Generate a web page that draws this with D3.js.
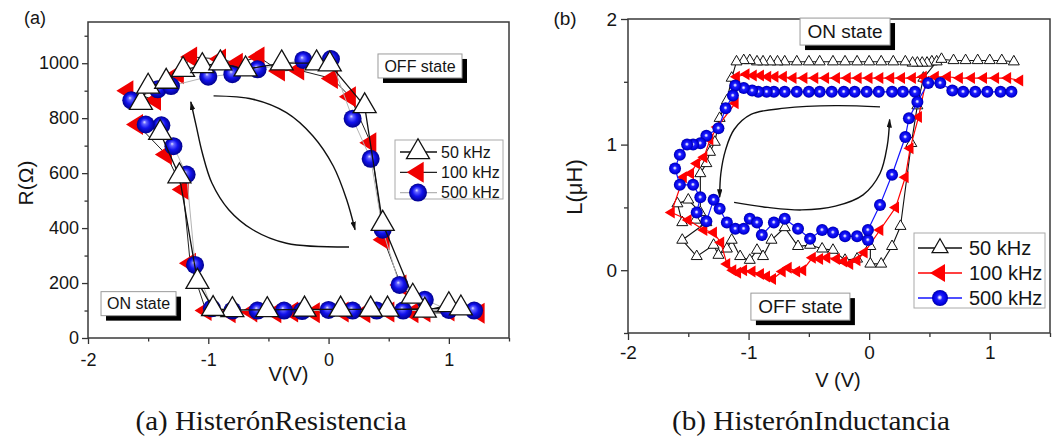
<!DOCTYPE html>
<html>
<head>
<meta charset="utf-8">
<script src="https://cdn.jsdelivr.net/npm/d3@7"></script>
<style>
  body { margin: 0; background: #fff; }
  svg text { font-family: "Liberation Sans", Arial, sans-serif; fill: #151515; }
</style>
</head>
<body>
<svg id="fig" width="1063" height="441"></svg>
<script>
// ---------- data ----------
const freqLabels = ["50 kHz", "100 kHz", "500 kHz"];

// (a) resistance loop, [V, R (ohm)]
const resA50 = [
  [-1.56, 856], [-1.50, 915], [-1.35, 933], [-1.21, 976], [-1.05, 990], [-0.90, 1000],
  [-0.69, 978], [-0.39, 1000], [-0.10, 1000], [0.01, 996], [0.30, 844], [0.45, 416],
  [0.70, 151], [0.80, 100], [1.00, 120], [1.10, 108], [0.49, 104], [0.35, 104],
  [0.10, 104], [-0.20, 104], [-0.51, 102], [-0.80, 102], [-0.96, 106], [-1.09, 205],
  [-1.24, 589], [-1.40, 747]
];
const resA100 = [
  [-1.67, 900], [-1.44, 865], [-1.25, 962], [-1.14, 1023], [-0.90, 1015], [-0.76, 1000],
  [-0.58, 1023], [-0.41, 972], [-0.25, 975], [0.03, 944], [0.18, 878], [0.35, 711],
  [0.46, 358], [0.60, 193], [0.80, 95], [1.00, 98], [1.25, 90], [0.70, 92], [0.50, 95],
  [0.30, 92], [0.12, 95], [-0.12, 92], [-0.30, 95], [-0.44, 92], [-0.64, 95], [-0.82, 92],
  [-1.02, 100], [-1.15, 272], [-1.21, 540], [-1.35, 668], [-1.59, 777]
];
const resA500 = [
  [-1.64, 865], [-1.42, 905], [-1.31, 917], [-1.00, 951], [-0.80, 960], [-0.59, 978],
  [-0.21, 1012], [0.02, 1015], [0.20, 798], [0.35, 652], [0.45, 394], [0.59, 193],
  [0.80, 139], [1.00, 102], [1.21, 100], [0.62, 100], [0.40, 100], [0.20, 100], [0.00, 102],
  [-0.22, 98], [-0.37, 100], [-0.59, 100], [-0.80, 100], [-0.97, 108], [-1.11, 266],
  [-1.18, 595], [-1.29, 698], [-1.39, 774], [-1.52, 777]
];

// (b) inductance loop, [V, L (uH)]
const indB50 = [
  [0.52, 1.66], [0.48, 1.65], [0.44, 1.65], [0.40, 1.65], [0.36, 1.65], [0.30, 1.66],
  [0.20, 1.66], [0.10, 1.66], [0.00, 1.66], [-0.10, 1.66], [-0.20, 1.66], [-0.30, 1.66],
  [-0.41, 1.66], [-0.50, 1.66], [-0.60, 1.66], [-0.70, 1.66], [-0.76, 1.66], [-0.82, 1.66],
  [-0.88, 1.66], [-0.93, 1.66], [-0.99, 1.67], [-1.04, 1.67], [-1.10, 1.66], [-1.14, 1.53],
  [-1.18, 1.35], [-1.24, 1.21], [-1.28, 1.02], [-1.32, 0.94], [-1.35, 0.85], [-1.40, 0.77],
  [-1.40, 0.46], [-1.50, 0.56], [-1.59, 0.53], [-1.55, 0.38], [-1.44, 0.40], [-1.35, 0.38],
  [-1.55, 0.24], [-1.43, 0.11], [-1.29, 0.20], [-1.25, 0.12], [-1.18, 0.17], [-1.14, 0.24],
  [-1.07, 0.11], [-0.99, 0.08], [-0.93, 0.16], [-0.88, 0.11], [-0.81, 0.24], [-0.70, 0.34],
  [-0.59, 0.19], [-0.49, 0.20], [-0.39, 0.17], [-0.30, 0.16], [-0.20, 0.08], [-0.10, 0.09],
  [0.01, 0.19], [0.01, 0.05], [0.10, 0.05], [0.19, 0.19], [0.26, 0.35], [0.35, 1.01],
  [0.40, 1.31], [0.45, 1.53], [0.56, 1.66], [0.60, 1.68], [0.70, 1.67], [0.80, 1.67],
  [0.90, 1.67], [1.00, 1.67], [1.10, 1.67], [1.20, 1.66]
];
const indB100 = [
  [0.45, 1.54], [0.36, 1.53], [0.27, 1.53], [0.18, 1.53], [0.09, 1.53], [0.00, 1.53],
  [-0.09, 1.53], [-0.18, 1.53], [-0.27, 1.53], [-0.36, 1.53], [-0.45, 1.53], [-0.54, 1.53],
  [-0.63, 1.53], [-0.71, 1.54], [-0.78, 1.54], [-0.84, 1.54], [-0.90, 1.55], [-0.96, 1.55],
  [-1.02, 1.56], [-1.10, 1.54], [-1.11, 1.33], [-1.26, 1.14], [-1.32, 1.04], [-1.37, 0.90],
  [-1.43, 0.85], [-1.48, 0.77], [-1.54, 0.74], [-1.64, 0.46], [-1.50, 0.40], [-1.37, 0.32],
  [-1.29, 0.30], [-1.23, 0.22], [-1.18, 0.05], [-1.13, 0.00], [-1.09, -0.02], [-1.04, 0.00],
  [-0.97, -0.01], [-0.90, -0.03], [-0.85, -0.05], [-0.80, -0.07], [-0.72, -0.01], [-0.67, 0.02],
  [-0.60, -0.01], [-0.55, 0.00], [-0.47, 0.10], [-0.41, 0.09], [-0.35, 0.10], [-0.27, 0.09],
  [-0.21, 0.07], [-0.16, 0.05], [-0.10, 0.08], [-0.04, 0.14], [0.09, 0.32], [0.22, 0.50],
  [0.30, 0.74], [0.34, 0.97], [0.41, 1.22], [0.47, 1.50], [0.55, 1.54], [0.65, 1.54],
  [0.75, 1.53], [0.85, 1.53], [0.95, 1.53], [1.05, 1.53], [1.15, 1.53], [1.25, 1.51]
];
const indB500 = [
  [0.38, 1.42], [0.28, 1.42], [0.19, 1.42], [0.08, 1.42], [-0.02, 1.42], [-0.12, 1.42],
  [-0.21, 1.42], [-0.31, 1.42], [-0.41, 1.42], [-0.50, 1.42], [-0.60, 1.42], [-0.70, 1.42],
  [-0.79, 1.42], [-0.85, 1.42], [-0.92, 1.42], [-0.97, 1.43], [-1.04, 1.45], [-1.11, 1.47],
  [-1.13, 1.39], [-1.19, 1.29], [-1.25, 1.13], [-1.35, 1.07], [-1.40, 1.01], [-1.46, 1.00],
  [-1.51, 1.00], [-1.57, 0.92], [-1.61, 0.81], [-1.57, 0.68], [-1.46, 0.68], [-1.40, 0.58],
  [-1.43, 0.46], [-1.35, 0.39], [-1.29, 0.56], [-1.24, 0.49], [-1.18, 0.38], [-1.11, 0.33],
  [-1.04, 0.33], [-0.99, 0.41], [-0.93, 0.38], [-0.89, 0.28], [-0.79, 0.38], [-0.70, 0.41],
  [-0.59, 0.33], [-0.49, 0.25], [-0.39, 0.32], [-0.30, 0.30], [-0.20, 0.27], [-0.10, 0.27],
  [-0.01, 0.24], [-0.01, 0.32], [0.09, 0.52], [0.19, 0.76], [0.30, 1.06], [0.33, 1.21],
  [0.40, 1.34], [0.49, 1.49], [0.59, 1.49], [0.69, 1.43], [0.78, 1.42], [0.88, 1.42],
  [0.98, 1.42], [1.09, 1.42], [1.18, 1.42]
];

// axis ticks
const voltTicks = [-2, -1, 0, 1];
const voltMinor = [-1.5, -0.5, 0.5, 1.5];
const resTicks = [0, 200, 400, 600, 800, 1000];
const resMinor = [100, 300, 500, 700, 900, 1100];
const indTicks = [0, 1, 2];
const indMinor = [-0.5, 0.5, 1.5];

// sweep direction arrows, [V, value]
const arrowA1 = [[0.17, 331], [-0.35, 345], [-0.63, 394], [-0.83, 467], [-0.97, 564], [-1.05, 674], [-1.10, 771], [-1.145, 859]];
const arrowA2 = [[-0.956, 881], [-0.63, 869], [-0.35, 820], [-0.13, 735], [0.04, 625], [0.15, 504], [0.22, 394]];
const arrowB1 = [[0.09, 1.30], [-0.28, 1.31], [-0.70, 1.29], [-0.98, 1.24], [-1.12, 1.12], [-1.19, 0.96], [-1.23, 0.77], [-1.24, 0.58]];
const arrowB2 = [[-1.12, 0.54], [-0.84, 0.50], [-0.56, 0.48], [-0.28, 0.51], [-0.05, 0.60], [0.09, 0.77], [0.15, 0.99], [0.17, 1.20]];

// state boxes, centred at [V, value]
const statesA = [{ text: "OFF state", at: [0.76, 990] }, { text: "ON state", at: [-1.58, 125] }];
const statesB = [{ text: "ON state", at: [-0.20, 1.90] }, { text: "OFF state", at: [-0.57, -0.29] }];

const captions = ["(a) HisterónResistencia", "(b) HisterónInductancia"];

// ---------- drawing ----------
const svg = d3.select("#fig");
svg.append("rect").attr("width", 1063).attr("height", 441).attr("fill", "#fff");
const defs = svg.append("defs");

function radial(id, fx, fy, stops) {
  const g = defs.append("radialGradient").attr("id", id)
    .attr("cx", "50%").attr("cy", "50%").attr("r", "50%").attr("fx", fx).attr("fy", fy);
  stops.forEach(([o, c]) => g.append("stop").attr("offset", o).attr("stop-color", c));
}
radial("ballA", "42%", "36%", [[0, "#e6e6ff"], [0.2, "#6464ff"], [0.55, "#1212ee"], [1, "#00008c"]]);
radial("ballB", "48%", "46%", [[0, "#ffffff"], [0.16, "#b4b4ff"], [0.34, "#1e1eff"], [0.8, "#0000e0"], [1, "#0000a0"]]);

defs.append("marker").attr("id", "head")
  .attr("viewBox", "0 0 10 6").attr("refX", 9).attr("refY", 3)
  .attr("markerWidth", 9).attr("markerHeight", 5.5)
  .attr("markerUnits", "userSpaceOnUse").attr("orient", "auto")
  .append("path").attr("d", "M0,0L10,3L0,6Z").attr("fill", "#111");

function triUp(s) {
  const h = s * Math.sqrt(3) / 2;
  return `M0,${-2 * h / 3}L${s / 2},${h / 3}L${-s / 2},${h / 3}Z`;
}
function triLeft(w, h) {
  return `M${-2 * w / 3},0L${w / 3},${-h / 2}L${w / 3},${h / 2}Z`;
}
function shapePath(m) {
  return m.kind === "up" ? triUp(m.s) : triLeft(m.w, m.h);
}

// draws one marker at a pixel position (legend use)
function legendMarker(g, m, cx, cy) {
  if (m.kind === "ball") {
    g.append("circle").attr("cx", cx).attr("cy", cy).attr("r", m.r).attr("fill", m.fill);
  } else {
    g.append("path").attr("d", shapePath(m)).attr("transform", `translate(${cx},${cy})`)
      .attr("fill", m.fill).attr("stroke", m.stroke || "none").attr("stroke-width", m.sw || 1);
  }
}

function drawPanel(p) {
  const x = d3.scaleLinear().domain([-2, 1.5]).range([p.left, p.right]);
  const y = d3.scaleLinear().domain(p.yDomain).range([p.bottom, p.top]);
  const g = svg.append("g");

  // axes: major and minor ticks, outward
  const styleAxis = sel => sel.attr("color", "#333").attr("font-size", p.font)
    .attr("font-family", "Liberation Sans, Arial, sans-serif")
    .call(s => s.select(".domain").remove())
    .call(s => s.selectAll("line").attr("stroke-width", 1.3));

  g.append("g").attr("transform", `translate(0,${p.bottom})`)
    .call(d3.axisBottom(x).tickValues(voltTicks).tickSize(p.tick).tickPadding(p.xPad).tickFormat(d => String(d)))
    .call(styleAxis);
  g.append("g").attr("transform", `translate(0,${p.bottom})`)
    .call(d3.axisBottom(x).tickValues(voltMinor).tickSize(p.minor).tickFormat(""))
    .call(styleAxis);
  g.append("g").attr("transform", `translate(${p.left},0)`)
    .call(d3.axisLeft(y).tickValues(p.yTicks).tickSize(p.tick).tickPadding(p.yPad).tickFormat(d => String(d)))
    .call(styleAxis);
  g.append("g").attr("transform", `translate(${p.left},0)`)
    .call(d3.axisLeft(y).tickValues(p.yMinor).tickSize(p.minor).tickFormat(""))
    .call(styleAxis);

  g.append("rect")
    .attr("x", p.left).attr("y", p.top)
    .attr("width", p.right - p.left).attr("height", p.bottom - p.top)
    .attr("fill", "none").attr("stroke", "#3a3a3a").attr("stroke-width", 1.5);

  // sweep arrows
  const curve = d3.line().x(d => x(d[0])).y(d => y(d[1])).curve(d3.curveCatmullRom.alpha(0.5));
  p.arrows.forEach(a => {
    g.append("path").attr("d", curve(a)).attr("fill", "none")
      .attr("stroke", "#111").attr("stroke-width", 1.4).attr("marker-end", "url(#head)");
  });

  // series: line then markers
  const line = d3.line().x(d => x(d[0])).y(d => y(d[1]));
  p.drawOrder.forEach(i => {
    const s = p.series[i];
    g.append("path").attr("d", line(s.data)).attr("fill", "none")
      .attr("stroke", s.line).attr("stroke-width", s.lw).attr("stroke-linejoin", "round");
    const m = s.mark;
    if (m.kind === "ball") {
      g.append("g").selectAll("circle").data(s.data).join("circle")
        .attr("cx", d => x(d[0])).attr("cy", d => y(d[1])).attr("r", m.r).attr("fill", m.fill);
    } else {
      g.append("g").selectAll("path").data(s.data).join("path")
        .attr("d", shapePath(m))
        .attr("transform", d => `translate(${x(d[0])},${y(d[1])})`)
        .attr("fill", m.fill).attr("stroke", m.stroke || "none").attr("stroke-width", m.sw || 1);
    }
  });

  // state boxes with drop shadow
  p.states.forEach(st => {
    const b = g.append("g").attr("transform", `translate(${x(st.at[0])},${y(st.at[1])})`);
    const w = p.box.w[st.text], h = p.box.h;
    b.append("rect").attr("x", -w / 2 + 5).attr("y", -h / 2 + 5).attr("width", w).attr("height", h).attr("fill", "#000");
    b.append("rect").attr("x", -w / 2).attr("y", -h / 2).attr("width", w).attr("height", h)
      .attr("fill", "#fff").attr("stroke", "#9a9a9a").attr("stroke-width", 1);
    b.append("text").attr("text-anchor", "middle").attr("dy", "0.36em")
      .attr("font-size", p.box.font).text(st.text);
  });

  // legend
  const L = p.legend;
  const lg = g.append("g");
  lg.append("rect").attr("x", L.x).attr("y", L.y).attr("width", L.w).attr("height", L.h)
    .attr("fill", "#fff").attr("stroke", "#aaa").attr("stroke-width", 1);
  p.series.forEach((s, i) => {
    const cy = L.y + L.row0 + i * L.step;
    lg.append("line").attr("x1", L.line[0]).attr("x2", L.line[1]).attr("y1", cy).attr("y2", cy)
      .attr("stroke", s.line).attr("stroke-width", L.lw);
    legendMarker(lg, s.legendMark || s.mark, L.mark, cy);
    lg.append("text").attr("x", L.text).attr("y", cy).attr("dy", "0.36em")
      .attr("font-size", L.font).text(freqLabels[i]);
  });

  // titles
  g.append("text").attr("x", (p.left + p.right) / 2 + p.xTitleShift).attr("y", p.xTitleY)
    .attr("text-anchor", "middle").attr("font-size", p.titleFont).text(p.xTitle);
  g.append("text").attr("transform", `translate(${p.yTitleX},${p.yTitleY}) rotate(-90)`)
    .attr("text-anchor", "middle").attr("font-size", p.yTitleFont).text(p.yTitle);
  g.append("text").attr("x", p.tag[0]).attr("y", p.tag[1])
    .attr("font-size", p.tag[2]).attr("text-anchor", "middle").text(p.tagText);
}

drawPanel({
  left: 88, right: 509, top: 22, bottom: 338, yDomain: [0, 1150],
  yTicks: resTicks, yMinor: resMinor, tick: 6, minor: 3.5, font: 18, xPad: 9, yPad: 3,
  series: [
    { data: resA50, line: "#111", lw: 1.3, mark: { kind: "up", s: 23, fill: "#fff", stroke: "#111", sw: 1.3 } },
    { data: resA100, line: "#222", lw: 1, mark: { kind: "left", w: 17, h: 21, fill: "#f00000" } },
    { data: resA500, line: "#b4b4b4", lw: 1, mark: { kind: "ball", r: 9, fill: "url(#ballA)" } }
  ],
  drawOrder: [1, 2, 0],
  arrows: [arrowA1, arrowA2],
  states: statesA,
  box: { w: { "OFF state": 84, "ON state": 75 }, h: 24, font: 16 },
  legend: { x: 395, y: 140, w: 108, h: 59, row0: 12, step: 20.3, line: [400, 437], lw: 1.3, mark: 418, text: 441, font: 16 },
  xTitle: "V(V)", xTitleY: 381, xTitleShift: -10, titleFont: 20,
  yTitle: "R(Ω)", yTitleX: 33, yTitleY: 183, yTitleFont: 21,
  tagText: "(a)", tag: [35, 24, 18]
});

drawPanel({
  left: 628, right: 1050, top: 19, bottom: 333, yDomain: [-0.5, 2],
  yTicks: indTicks, yMinor: indMinor, tick: 7, minor: 4, font: 19, xPad: 6, yPad: 4,
  series: [
    { data: indB50, line: "#111", lw: 1.1, mark: { kind: "up", s: 11, fill: "#fff", stroke: "#111", sw: 1 },
      legendMark: { kind: "up", s: 16, fill: "#fff", stroke: "#111", sw: 1.2 } },
    { data: indB100, line: "#ff0000", lw: 1.2, mark: { kind: "left", w: 10, h: 12, fill: "#ff0000" },
      legendMark: { kind: "left", w: 15, h: 18, fill: "#ff0000" } },
    { data: indB500, line: "#1414ff", lw: 1.2, mark: { kind: "ball", r: 6, fill: "url(#ballB)" },
      legendMark: { kind: "ball", r: 8, fill: "url(#ballB)" } }
  ],
  drawOrder: [0, 1, 2],
  arrows: [arrowB1, arrowB2],
  states: statesB,
  box: { w: { "OFF state": 99, "ON state": 90 }, h: 27, font: 19 },
  legend: { x: 914, y: 233, w: 131, h: 75, row0: 15, step: 25, line: [918, 962], lw: 1.5, mark: 940, text: 969, font: 20 },
  xTitle: "V (V)", xTitleY: 387, xTitleShift: -1, titleFont: 20,
  yTitle: "L(μH)", yTitleX: 582, yTitleY: 187, yTitleFont: 22,
  tagText: "(b)", tag: [565, 25, 19]
});

// sub-figure captions
[[271, 271], [811, 278]].forEach(([cx, len], i) => {
  svg.append("text").attr("x", cx).attr("y", 430).attr("text-anchor", "middle")
    .attr("font-size", 27)
    .attr("textLength", len).attr("lengthAdjust", "spacingAndGlyphs")
    .style("font-family", "'Liberation Serif', 'DejaVu Serif', serif")
    .text(captions[i]);
});
</script>
</body>
</html>
